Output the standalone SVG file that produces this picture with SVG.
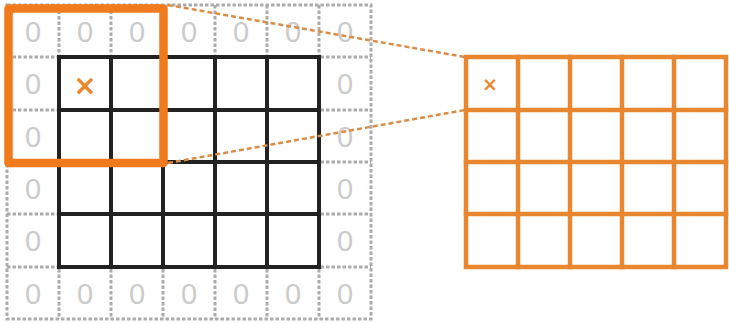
<svg xmlns="http://www.w3.org/2000/svg" width="729" height="323" viewBox="0 0 729 323">
<style>
.dot{stroke:#acacac;stroke-width:3;stroke-dasharray:3.5 2;fill:none}
.blk{stroke:#222;stroke-width:4;fill:none;stroke-linecap:square}
.org{stroke:#e8872f;stroke-width:4.5;fill:none;stroke-linecap:square}
.zero{font-family:"Liberation Sans",Arial,sans-serif;font-size:29px;fill:#cbcbcb;text-anchor:middle}
.cross{font-family:"DejaVu Sans",sans-serif;font-weight:bold;fill:#e8872f;text-anchor:middle}
.conn{stroke:#d98d48;stroke-width:2.5;stroke-dasharray:5 3;fill:none}
</style>
<rect width="729" height="323" fill="#fff"/>
<g id="padded-input">
<g class="dot">
<path d="M7 5H371V319H7Z"/>
<path d="M59 5V319M111 5V319M163 5V319M215 5V319M267 5V319M319 5V319"/>
<path d="M7 57H371M7 110H371M7 162H371M7 214H371M7 267H371"/>
</g>
<g class="zero">
<text x="33" y="42">0</text><text x="85" y="42">0</text><text x="137" y="42">0</text><text x="189" y="42">0</text><text x="241" y="42">0</text><text x="293" y="42">0</text><text x="345" y="42">0</text>
<text x="33" y="94">0</text><text x="345" y="94">0</text>
<text x="33" y="147">0</text><text x="345" y="147">0</text>
<text x="33" y="199">0</text><text x="345" y="199">0</text>
<text x="33" y="251">0</text><text x="345" y="251">0</text>
<text x="33" y="304">0</text><text x="85" y="304">0</text><text x="137" y="304">0</text><text x="189" y="304">0</text><text x="241" y="304">0</text><text x="293" y="304">0</text><text x="345" y="304">0</text>
</g>
<g class="blk">
<path d="M59 57H319V267H59Z"/>
<path d="M111 57V267M163 57V267M215 57V267M267 57V267"/>
<path d="M59 110H319M59 162H319M59 214H319"/>
</g>
<text class="cross" x="85" y="95" font-size="28">×</text>
</g>
<g id="kernel-window">
<rect x="8.5" y="8.5" width="155" height="154.5" fill="none" stroke="#f07a1c" stroke-width="8.5" stroke-linejoin="round"/>
</g>
<g id="connectors">
<line class="conn" x1="168" y1="5" x2="465" y2="57"/>
<line class="conn" x1="168" y1="163" x2="465" y2="110"/>
</g>
<g id="output-map">
<g class="org">
<path d="M466 57H726V267H466Z"/>
<path d="M518 57V267M570 57V267M622 57V267M674 57V267"/>
<path d="M466 110H726M466 162H726M466 214H726"/>
</g>
<text class="cross" x="490" y="91" font-size="19">×</text>
</g>
</svg>
